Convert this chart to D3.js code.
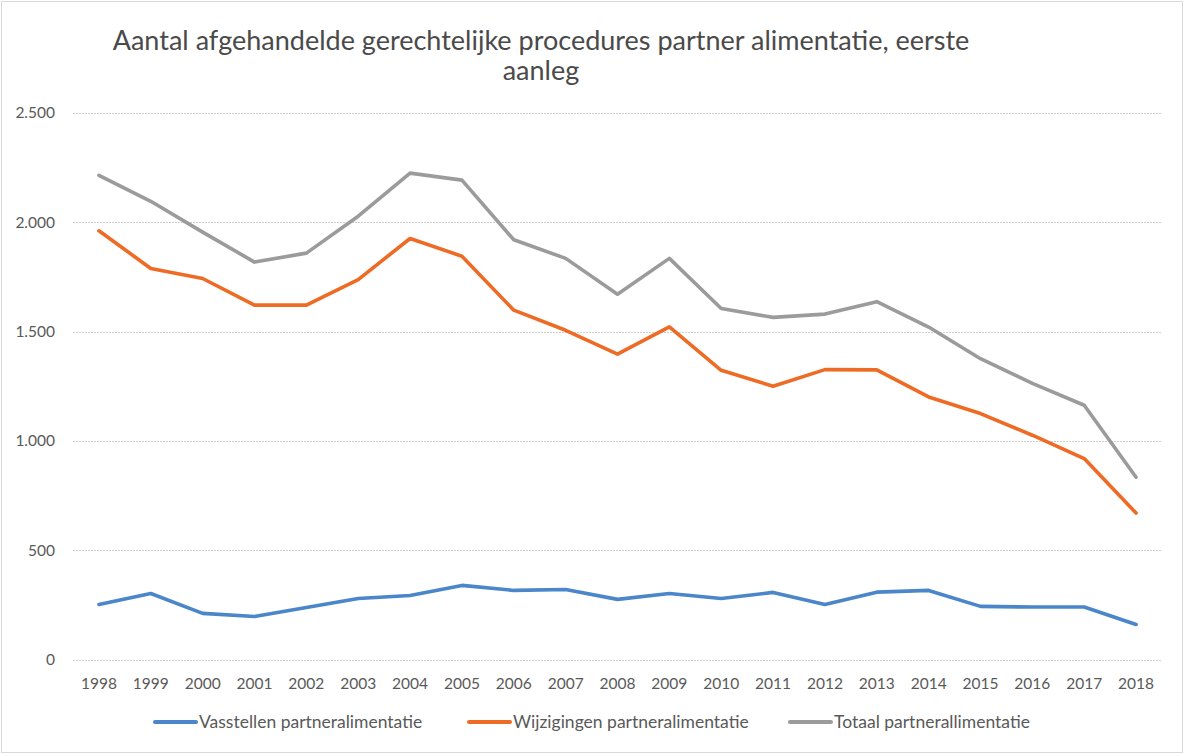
<!DOCTYPE html>
<html><head><meta charset="utf-8">
<script src="https://cdn.jsdelivr.net/npm/d3@7"></script>
<style>body{margin:0;background:#fff}svg{display:block}</style>
</head><body>
<script>
const years = ["1998","1999","2000","2001","2002","2003","2004","2005","2006","2007","2008","2009","2010","2011","2012","2013","2014","2015","2016","2017","2018"];
const vaststellen = [252,302,211,197,238,279,293,339,316,320,275,302,279,307,252,308,316,243,240,240,160];
const wijzigingen = [1961,1789,1743,1621,1621,1738,1926,1845,1598,1506,1397,1522,1323,1250,1326,1325,1201,1125,1026,919,670];
const totaal = [2215,2096,1955,1818,1859,2028,2225,2193,1920,1835,1671,1835,1606,1565,1580,1637,1521,1376,1263,1163,834];
const yTicks = [0,500,1000,1500,2000,2500];
const yTickLabels = ["0","500","1.000","1.500","2.000","2.500"];
const seriesNames = ["Vasstellen partneralimentatie","Wijzigingen partneralimentatie","Totaal partnerallimentatie"];
const seriesColors = ["#4a86c9","#ee6b25","#9b9b9b"];
const titleLines = ["Aantal afgehandelde gerechtelijke procedures partner alimentatie, eerste","aanleg"];

const W=1185,H=756;
const svg=d3.select("body").append("svg").attr("width",W).attr("height",H);
svg.append("rect").attr("x",1.5).attr("y",1.5).attr("width",W-4).attr("height",H-5)
  .attr("fill","#fff").attr("stroke","#d9d9d9");

const font="Lato, 'Open Sans', sans-serif";
const x=d3.scaleBand().domain(years).range([73,1162]);
const y=d3.scaleLinear().domain([0,2500]).range([659.5,113]);

// gridlines
const g=svg.append("g");
g.selectAll("line.grid").data(yTicks).join("line")
  .attr("x1",73).attr("x2",1162)
  .attr("y1",d=>Math.round(y(d))+0.5).attr("y2",d=>Math.round(y(d))+0.5)
  .attr("stroke","#cfcfcf").attr("stroke-width",1).attr("stroke-dasharray","2,1");

// y axis labels
const yAxis=d3.axisLeft(y).tickValues(yTicks).tickFormat((d,i)=>yTickLabels[i]).tickSize(0).tickPadding(18);
const ya=svg.append("g").attr("transform","translate(73,0)").call(yAxis);
ya.select(".domain").remove();
ya.selectAll("text").attr("font-family",font).attr("font-size",15.5).attr("fill","#595959");

// x axis labels
const xAxis=d3.axisBottom(x).tickSize(0).tickPadding(18);
const xa=svg.append("g").attr("transform","translate(0,659.5)").call(xAxis);
xa.select(".domain").remove();
xa.selectAll("text").attr("font-family",font).attr("font-size",15.5).attr("fill","#595959");

// lines
const data=[vaststellen,wijzigingen,totaal];
const line=d3.line().x((d,i)=>x(years[i])+x.bandwidth()/2).y(d=>y(d));
[2,1,0].forEach(k=>{
  svg.append("path").datum(data[k]).attr("d",line).attr("fill","none")
    .attr("stroke",seriesColors[k]).attr("stroke-width",3.6)
    .attr("stroke-linejoin","round").attr("stroke-linecap","round");
});

// title
titleLines.forEach((t,i)=>{
  svg.append("text").attr("x",541).attr("y",50+i*30).attr("text-anchor","middle")
    .attr("font-family",font).attr("font-size",27).attr("fill","#4a4a4a").text(t);
});

// legend
const legX=[155,469,790];
seriesNames.forEach((n,i)=>{
  svg.append("line").attr("x1",legX[i]).attr("x2",legX[i]+41).attr("y1",722).attr("y2",722)
    .attr("stroke",seriesColors[i]).attr("stroke-width",4).attr("stroke-linecap","round");
  svg.append("text").attr("x",legX[i]+44).attr("y",728).attr("font-family",font)
    .attr("font-size",17.5).attr("fill","#595959").text(n);
});
</script>
</body></html>
